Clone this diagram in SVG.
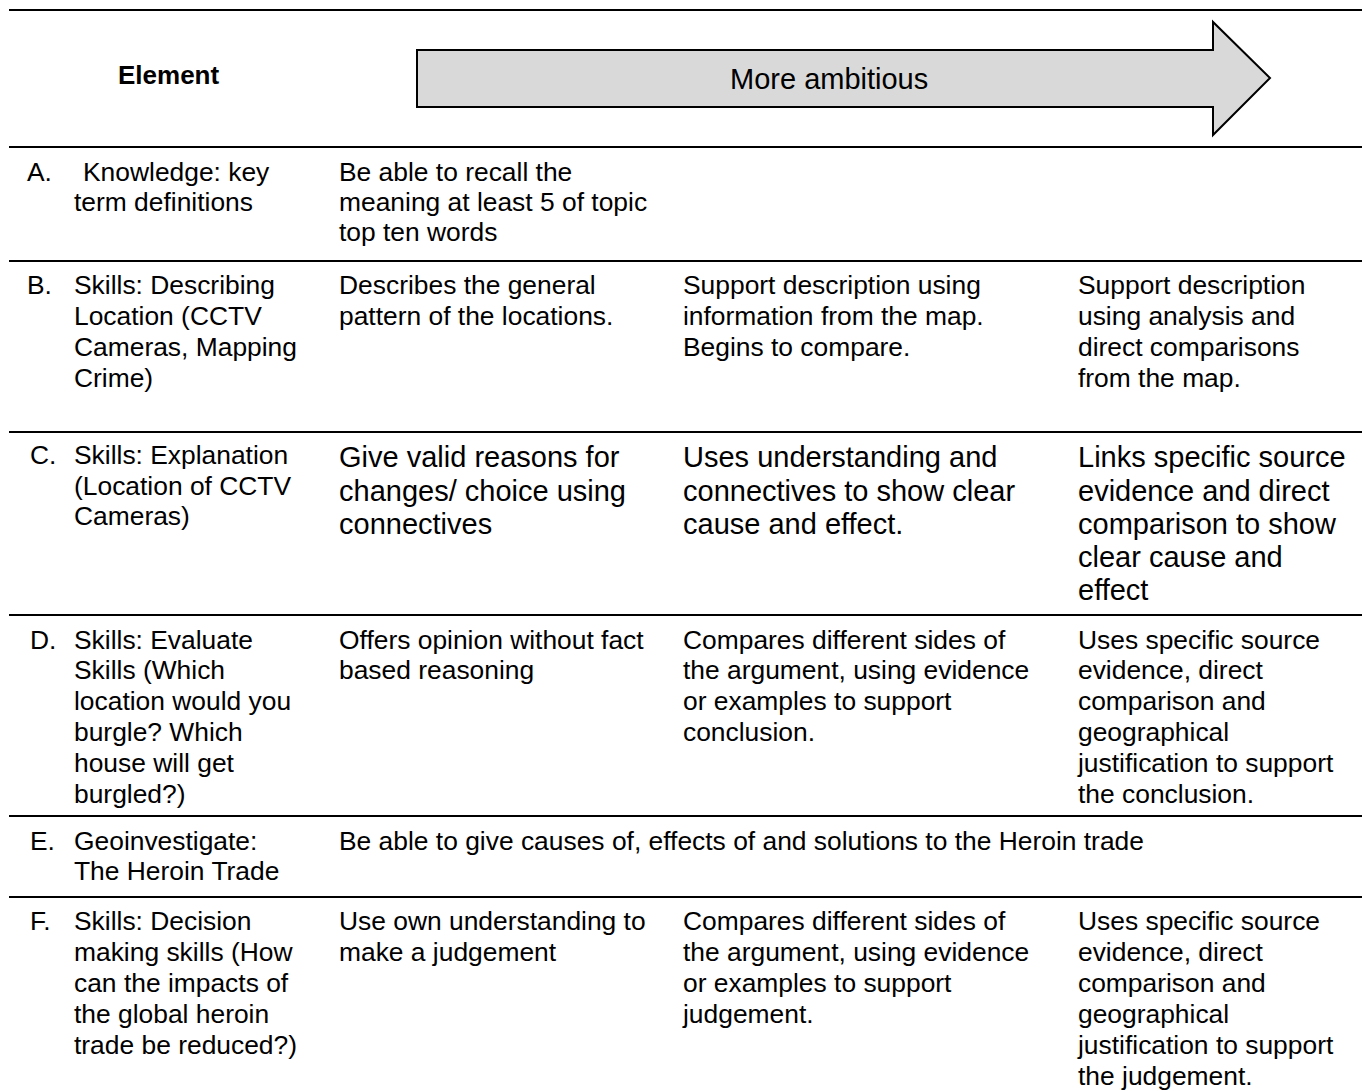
<svg xmlns="http://www.w3.org/2000/svg" width="1362" height="1091" viewBox="0 0 1362 1091">
<style>
  text { font-family: "Liberation Sans", Arial, sans-serif; fill: #000; }
  .t { font-size: 26.4px; }
  .big { font-size: 29px; }
  .hb { font-size: 26px; font-weight: bold; }
  .rule { stroke: #000; stroke-width: 2; fill: none; }
</style>
<rect width="1362" height="1091" fill="#fff"/>
<g id="rules">
  <line class="rule" x1="9" y1="10" x2="1362" y2="10"/>
  <line class="rule" x1="9" y1="147" x2="1362" y2="147"/>
  <line class="rule" x1="9" y1="261" x2="1362" y2="261"/>
  <line class="rule" x1="9" y1="432" x2="1362" y2="432"/>
  <line class="rule" x1="9" y1="615" x2="1362" y2="615"/>
  <line class="rule" x1="9" y1="816" x2="1362" y2="816"/>
  <line class="rule" x1="9" y1="897" x2="1362" y2="897"/>
</g>
<g id="header">
  <text class="hb" x="118" y="84">Element</text>
  <g id="arrow">
    <polygon points="417,50 1213,50 1213,22 1270,78 1213,135 1213,107 417,107" fill="#d9d9d9" stroke="#000" stroke-width="2"/>
    <text class="big" x="730" y="89">More ambitious</text>
  </g>
</g>
<g id="rowA">
  <text class="t" x="27" y="181">A.</text>
  <text class="t" x="83" y="181">Knowledge: key</text>
  <text class="t" x="74" y="211">term definitions</text>
  <text class="t" x="339"><tspan x="339" y="181">Be able to recall the</tspan><tspan x="339" y="211">meaning at least 5 of topic</tspan><tspan x="339" y="241">top ten words</tspan></text>
</g>
<g id="rowB">
  <text class="t" x="27" y="294">B.</text>
  <text class="t"><tspan x="74" y="294">Skills: Describing</tspan><tspan x="74" y="325">Location (CCTV</tspan><tspan x="74" y="356">Cameras, Mapping</tspan><tspan x="74" y="387">Crime)</tspan></text>
  <text class="t"><tspan x="339" y="294">Describes the general</tspan><tspan x="339" y="325">pattern of the locations.</tspan></text>
  <text class="t"><tspan x="683" y="294">Support description using</tspan><tspan x="683" y="325">information from the map.</tspan><tspan x="683" y="356">Begins to compare.</tspan></text>
  <text class="t"><tspan x="1078" y="294">Support description</tspan><tspan x="1078" y="325">using analysis and</tspan><tspan x="1078" y="356">direct comparisons</tspan><tspan x="1078" y="387">from the map.</tspan></text>
</g>
<g id="rowC">
  <text class="t" x="30" y="464">C.</text>
  <text class="t"><tspan x="74" y="464">Skills: Explanation</tspan><tspan x="74" y="495">(Location of CCTV</tspan><tspan x="74" y="525">Cameras)</tspan></text>
  <text class="big"><tspan x="339" y="467">Give valid reasons for</tspan><tspan x="339" y="501">changes/ choice using</tspan><tspan x="339" y="534">connectives</tspan></text>
  <text class="big"><tspan x="683" y="467">Uses understanding and</tspan><tspan x="683" y="501">connectives to show clear</tspan><tspan x="683" y="534">cause and effect.</tspan></text>
  <text class="big"><tspan x="1078" y="467">Links specific source</tspan><tspan x="1078" y="501">evidence and direct</tspan><tspan x="1078" y="534">comparison to show</tspan><tspan x="1078" y="567">clear cause and</tspan><tspan x="1078" y="600">effect</tspan></text>
</g>
<g id="rowD">
  <text class="t" x="30" y="649">D.</text>
  <text class="t"><tspan x="74" y="649">Skills: Evaluate</tspan><tspan x="74" y="679">Skills (Which</tspan><tspan x="74" y="710">location would you</tspan><tspan x="74" y="741">burgle? Which</tspan><tspan x="74" y="772">house will get</tspan><tspan x="74" y="803">burgled?)</tspan></text>
  <text class="t"><tspan x="339" y="649">Offers opinion without fact</tspan><tspan x="339" y="679">based reasoning</tspan></text>
  <text class="t"><tspan x="683" y="649">Compares different sides of</tspan><tspan x="683" y="679">the argument, using evidence</tspan><tspan x="683" y="710">or examples to support</tspan><tspan x="683" y="741">conclusion.</tspan></text>
  <text class="t"><tspan x="1078" y="649">Uses specific source</tspan><tspan x="1078" y="679">evidence, direct</tspan><tspan x="1078" y="710">comparison and</tspan><tspan x="1078" y="741">geographical</tspan><tspan x="1078" y="772">justification to support</tspan><tspan x="1078" y="803">the conclusion.</tspan></text>
</g>
<g id="rowE">
  <text class="t" x="30" y="850">E.</text>
  <text class="t"><tspan x="74" y="850">Geoinvestigate:</tspan><tspan x="74" y="880">The Heroin Trade</tspan></text>
  <text class="t" x="339" y="850">Be able to give causes of, effects of and solutions to the Heroin trade</text>
</g>
<g id="rowF">
  <text class="t" x="30" y="930">F.</text>
  <text class="t"><tspan x="74" y="930">Skills: Decision</tspan><tspan x="74" y="961">making skills (How</tspan><tspan x="74" y="992">can the impacts of</tspan><tspan x="74" y="1023">the global heroin</tspan><tspan x="74" y="1054">trade be reduced?)</tspan></text>
  <text class="t"><tspan x="339" y="930">Use own understanding to</tspan><tspan x="339" y="961">make a judgement</tspan></text>
  <text class="t"><tspan x="683" y="930">Compares different sides of</tspan><tspan x="683" y="961">the argument, using evidence</tspan><tspan x="683" y="992">or examples to support</tspan><tspan x="683" y="1023">judgement.</tspan></text>
  <text class="t"><tspan x="1078" y="930">Uses specific source</tspan><tspan x="1078" y="961">evidence, direct</tspan><tspan x="1078" y="992">comparison and</tspan><tspan x="1078" y="1023">geographical</tspan><tspan x="1078" y="1054">justification to support</tspan><tspan x="1078" y="1085">the judgement.</tspan></text>
</g>
</svg>
